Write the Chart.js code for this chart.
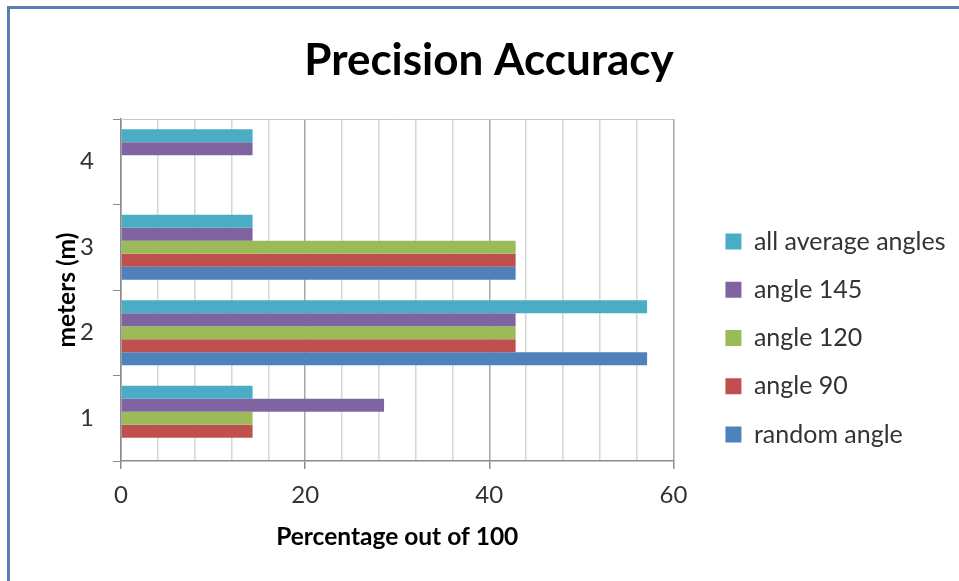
<!DOCTYPE html>
<html>
<head>
<meta charset="utf-8">
<script src="https://cdn.jsdelivr.net/npm/chart.js@4.4.1/dist/chart.umd.min.js"></script>
<style>
  html, body { margin: 0; padding: 0; background: #ffffff; }
  body { width: 959px; height: 581px; position: relative; overflow: hidden; }
  #frame {
    position: absolute; left: 7px; top: 6px; right: 0; bottom: 0;
    border-top: 3px solid #5a7db3; border-left: 3px solid #5a7db3;
  }
  #wrap { position: absolute; left: 10px; top: 9px; width: 949px; height: 572px; }
</style>
</head>
<body>
<div id="frame"></div>
<div id="wrap"><canvas id="chart"></canvas></div>
<script>
// Distance in meters (category axis)
const categories = ['1', '2', '3', '4'];

// Precision, percentage out of 100
const randomAngle = [0, 57.14, 42.86, 0];
const angle90 = [14.29, 42.86, 42.86, 0];
const angle120 = [14.29, 42.86, 42.86, 0];
const angle145 = [28.57, 42.86, 14.29, 14.29];
const allAverageAngles = [14.29, 57.14, 14.29, 14.29];

// Labelled x ticks
const xTickLabels = [0, 20, 40, 60];

const FONT = 'Lato, "Open Sans", sans-serif';

// Thin frame along the top edge of the plot area
const plotTopBorder = {
  id: 'plotTopBorder',
  afterDraw(chart) {
    const { ctx, chartArea } = chart;
    ctx.save();
    ctx.strokeStyle = '#c8c8c8';
    ctx.lineWidth = 1;
    ctx.beginPath();
    ctx.moveTo(chartArea.left, Math.round(chartArea.top) + 0.5);
    ctx.lineTo(chartArea.right, Math.round(chartArea.top) + 0.5);
    ctx.stroke();
    ctx.restore();
  }
};

new Chart(document.getElementById('chart'), {
  type: 'bar',
  data: {
    labels: categories,
    datasets: [
      { label: 'all average angles', data: allAverageAngles, backgroundColor: '#4bacc6' },
      { label: 'angle 145', data: angle145, backgroundColor: '#8064a2' },
      { label: 'angle 120', data: angle120, backgroundColor: '#9bbb59' },
      { label: 'angle 90', data: angle90, backgroundColor: '#c0504d' },
      { label: 'random angle', data: randomAngle, backgroundColor: '#4f81bd' }
    ]
  },
  options: {
    indexAxis: 'y',
    responsive: true,
    maintainAspectRatio: false,
    animation: false,
    datasets: { bar: { categoryPercentage: 0.76, barPercentage: 1.0, borderWidth: 0 } },
    layout: { padding: { left: 12.5, top: 0, right: 3.5, bottom: 25.3 } },
    plugins: {
      tooltip: { enabled: false },
      title: {
        display: true,
        text: 'Precision Accuracy',
        color: '#000000',
        font: { family: FONT, size: 44, weight: 'bold' },
        padding: { top: 25.5, bottom: 31.7 }
      },
      legend: {
        position: 'right',
        maxWidth: 320,
        title: { display: true, text: ' ', font: { size: 10 }, padding: { top: 99.3, bottom: 0 } },
        labels: {
          boxWidth: 16,
          boxHeight: 16,
          padding: 23.25,
          color: '#333333',
          font: { family: FONT, size: 25 }
        }
      }
    },
    scales: {
      x: {
        type: 'linear',
        min: 0,
        max: 60,
        border: { color: '#8c8c8c', width: 1.5 },
        grid: {
          color: (c) => (c.tick && c.tick.value % 20 === 0 ? '#a6a6a6' : '#d6d6d6'),
          lineWidth: 1.5,
          tickColor: (c) => (c.tick && c.tick.value % 20 === 0 ? '#8c8c8c' : 'rgba(0,0,0,0)'),
          tickLength: 8
        },
        ticks: {
          stepSize: 4,
          autoSkip: false,
          maxRotation: 0,
          padding: 11.6,
          color: '#333333',
          font: { family: FONT, size: 24 },
          callback: (v) => (xTickLabels.includes(v) ? String(v) : '')
        },
        title: {
          display: true,
          text: 'Percentage out of 100',
          color: '#000000',
          font: { family: FONT, size: 24.5, weight: 'bold' },
          padding: { top: 1.3, bottom: 4 }
        }
      },
      y: {
        type: 'category',
        reverse: true,
        border: { color: '#8c8c8c', width: 1.5 },
        grid: { offset: true, drawOnChartArea: false, tickLength: 8, color: '#8c8c8c' },
        ticks: { padding: 19, color: '#333333', font: { family: FONT, size: 24 } },
        title: {
          display: true,
          text: 'meters (m)',
          color: '#000000',
          font: { family: FONT, size: 24.5, weight: 'bold' },
          padding: { top: 30, bottom: 0 }
        },
        afterFit: (axis) => { axis.width = 98.5; }
      },
      gap: {
        type: 'category',
        position: 'right',
        display: true,
        grid: { display: false },
        border: { display: false },
        ticks: { display: false },
        afterFit: (axis) => { axis.width = 28.75; }
      }
    }
  },
  plugins: [plotTopBorder]
});
</script>
</body>
</html>
